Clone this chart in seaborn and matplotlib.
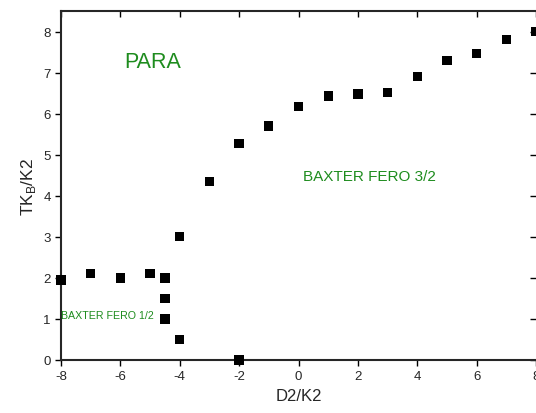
import numpy as np
import pandas as pd
import matplotlib
matplotlib.use("Agg")
import matplotlib.pyplot as plt
import seaborn as sns

sns.set_style("ticks")
plt.rcParams['font.family'] = ['Liberation Sans', 'DejaVu Sans']
plt.rcParams['axes.unicode_minus'] = False

# datos del diagrama de fases
d2 = [-8, -7, -6, -5, -4.5, -4.5, -4.5, -4, -4, -2, -3, -2, -1, 0, 1, 2, 3, 4, 5, 6, 7, 8]
tk = [1.95, 2.1, 2.0, 2.1, 2.0, 1.5, 1.0, 0.5, 3.0, 0.0, 4.35, 5.27, 5.7, 6.18, 6.43, 6.48,
      6.52, 6.9, 7.3, 7.47, 7.8, 8.0]
df = pd.DataFrame({"d2": d2, "tk": tk})

verde = "#1e8c1e"

fig = plt.figure(figsize=(5.36, 4.14), dpi=100)
ax = fig.add_axes([61/536, 53/414, 475/536, 349/414])

sns.scatterplot(data=df, x="d2", y="tk", marker="s", color="black", s=45,
                edgecolor="none", ax=ax, clip_on=False, zorder=3)

ax.set_xlim(-8, 8)
ax.set_ylim(0, 8.5)
ax.set_xticks(np.arange(-8, 9, 2))
ax.set_yticks(np.arange(0, 9, 1))
ax.tick_params(axis="both", labelsize=9.5, length=4, width=1, color="black")
ax.tick_params(top=True, right=True, which="both")
ax.tick_params(axis="x", which="both", direction="out")
ax.tick_params(axis="y", which="both", direction="out")
for t in ax.xaxis.get_major_ticks():
    t.tick2line.set_marker(matplotlib.lines.TICKDOWN)
for t in ax.yaxis.get_major_ticks():
    t.tick2line.set_marker(matplotlib.lines.TICKLEFT)
ax.spines["right"].set_visible(False)
for s in ["left", "bottom", "top"]:
    ax.spines[s].set_linewidth(1.5)

ax.set_xlabel("D2/K2", fontsize=12)
ax.set_ylabel(r"TK$_\mathregular{B}$/K2", fontsize=12.5)

ax.text(-4.9, 7.27, "PARA", color=verde, fontsize=15.5, ha="center", va="center")
ax.text(2.4, 4.48, "BAXTER FERO 3/2", color=verde, fontsize=11, ha="center", va="center")
ax.text(-8, 1.1, "BAXTER FERO 1/2", color=verde, fontsize=7.7, ha="left", va="center")

plt.savefig("out.png", dpi=100)
